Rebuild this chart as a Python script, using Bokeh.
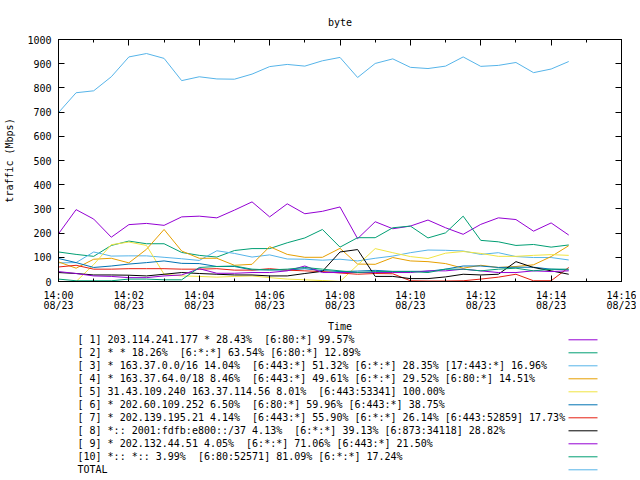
from bokeh.plotting import figure
from bokeh.models import Range1d, FixedTicker, LinearAxis, CustomJSTickFormatter
from bokeh.layouts import column
from bokeh.embed import file_html
from bokeh.resources import INLINE
from bokeh.core.properties import value

# ---------------- data ----------------
times = ["14:00:00", "14:00:30", "14:01:00", "14:01:30", "14:02:00", "14:02:30",
         "14:03:00", "14:03:30", "14:04:00", "14:04:30", "14:05:00", "14:05:30",
         "14:06:00", "14:06:30", "14:07:00", "14:07:30", "14:08:00", "14:08:30",
         "14:09:00", "14:09:30", "14:10:00", "14:10:30", "14:11:00", "14:11:30",
         "14:12:00", "14:12:30", "14:13:00", "14:13:30", "14:14:00", "14:14:30"]

s1 = [197, 297, 258, 183, 235, 240, 232, 267, 270, 263, 295, 329, 267, 321, 280,
      290, 308, 177, 247, 218, 229, 254, 222, 195, 236, 263, 256, 208, 242, 192]
s2 = [122, 112, 104, 149, 167, 156, 156, 120, 108, 101, 128, 136, 136, 160, 180,
      215, 142, 181, 181, 222, 229, 180, 201, 270, 170, 164, 149, 153, 142, 151]
s3 = [77, 78, 122, 105, 106, 106, 100, 94, 87, 127, 116, 101, 110, 93, 92,
      88, 92, 85, 96, 105, 119, 130, 129, 126, 112, 119, 103, 99, 99, 89]
s4 = [81, 55, 92, 96, 77, 133, 215, 126, 96, 96, 67, 71, 144, 112, 100,
      100, 137, 72, 71, 99, 85, 82, 74, 55, 67, 58, 62, 69, 103, 148]
s5 = [0, 0, 70, 152, 163, 149, 30, 23, 21, 18, 21, 23, 16, 10, 7,
      4, 0, 68, 136, 119, 103, 95, 117, 124, 116, 104, 104, 108, 111, 108]
s6 = [95, 78, 58, 64, 72, 78, 85, 75, 74, 62, 62, 48, 48, 47, 53,
      45, 41, 43, 46, 42, 42, 42, 51, 64, 64, 58, 59, 59, 51, 48]
s7 = [60, 67, 51, 51, 53, 53, 53, 51, 51, 53, 47, 47, 53, 47, 44,
      41, 35, 30, 33, 32, 3, 2, 2, 3, 10, 18, 30, 3, 3, 58]
s8 = [37, 33, 27, 27, 26, 23, 30, 37, 33, 30, 27, 27, 23, 23, 33,
      42, 122, 132, 21, 21, 12, 12, 19, 30, 27, 30, 82, 58, 44, 30]
s9 = [41, 33, 23, 21, 16, 16, 23, 27, 53, 34, 34, 37, 37, 44, 64,
      37, 37, 37, 37, 37, 37, 44, 44, 51, 44, 37, 37, 44, 41, 44]
s10 = [10, 3, 3, 3, 10, 10, 7, 7, 58, 62, 64, 51, 48, 51, 58,
       51, 44, 37, 41, 41, 41, 37, 51, 51, 44, 51, 55, 44, 51, 51]
total = [698, 780, 788, 846, 928, 942, 922, 830, 846, 837, 836, 857, 888, 897, 890,
         912, 926, 843, 901, 920, 885, 880, 890, 928, 889, 893, 905, 863, 878, 909]

series = [s1, s2, s3, s4, s5, s6, s7, s8, s9, s10, total]

NB = "\u00a0 "  # double space that survives SVG whitespace collapsing
legend_labels = [
    "[ 1] 203.114.241.177 * 28.43%" + NB + "[6:80:*] 99.57%",
    "[ 2] * * 18.26%" + NB + "[6:*:*] 63.54% [6:80:*] 12.89%",
    "[ 3] * 163.37.0.0/16 14.04%" + NB + "[6:443:*] 51.32% [6:*:*] 28.35% [17:443:*] 16.96%",
    "[ 4] * 163.37.64.0/18 8.46%" + NB + "[6:443:*] 49.61% [6:*:*] 29.52% [6:80:*] 14.51%",
    "[ 5] 31.43.109.240 163.37.114.56 8.01%" + NB + "[6:443:53341] 100.00%",
    "[ 6] * 202.60.109.252 6.50%" + NB + "[6:80:*] 59.96% [6:443:*] 38.75%",
    "[ 7] * 202.139.195.21 4.14%" + NB + "[6:443:*] 55.90% [6:*:*] 26.14% [6:443:52859] 17.73%",
    "[ 8] *:: 2001:fdfb:e800::/37 4.13%" + NB + "[6:*:*] 39.13% [6:873:34118] 28.82%",
    "[ 9] * 202.132.44.51 4.05%" + NB + "[6:*:*] 71.06% [6:443:*] 21.50%",
    "[10] *:: *:: 3.99%" + NB + "[6:80:52571] 81.09% [6:*:*] 17.24%",
    "TOTAL",
]

colors = ["#9400d3", "#009e73", "#56b4e9", "#e69f00", "#f0e442", "#0072b2",
          "#e51e10", "#000000", "#9400d3", "#009e73", "#56b4e9"]

x_ticks = [0, 2, 4, 6, 8, 10, 12, 14, 16]
x_minor = [0, 1, 2, 3, 4, 5, 6, 7, 8, 9, 10, 11, 12, 13, 14, 15, 16]
x_tick_labels = ["14:00\n08/23", "14:02\n08/23", "14:04\n08/23", "14:06\n08/23",
                 "14:08\n08/23", "14:10\n08/23", "14:12\n08/23", "14:14\n08/23",
                 "14:16\n08/23"]
y_ticks = [0, 100, 200, 300, 400, 500, 600, 700, 800, 900, 1000]


def to_minutes(t):
    h, m, s = (int(v) for v in t.split(":"))
    return (h - 14) * 60 + m + s / 60.0


xs = [to_minutes(t) for t in times]

FONT = "DejaVu Sans Mono"
FS = "10px"

W = 636
H1 = 334
H2 = 142
FL, FR, FT, FB = 58, 621, 39, 282  # frame edges in page pixels

# ---------------- main plot ----------------
p = figure(width=W, height=H1, output_backend="svg", toolbar_location=None,
           x_range=Range1d(0, 16), y_range=Range1d(0, 1000),
           min_border_left=FL, min_border_right=W - FR, min_border_top=FT,
           min_border_bottom=H1 - FB, title="byte")
p.title.text_font = FONT
p.title.text_font_size = FS
p.title.text_font_style = "normal"
p.title.align = "center"
p.title.text_color = "black"
p.title.standoff = 24
p.outline_line_color = "black"
p.xgrid.visible = False
p.ygrid.visible = False
p.background_fill_color = "white"
p.border_fill_color = "white"

xa = p.xaxis[0]
xa.ticker = FixedTicker(ticks=x_ticks, minor_ticks=x_minor)
xa.major_label_overrides = {t: lab for t, lab in zip(x_ticks, x_tick_labels)}
xa.axis_label = "Time"
ya = p.yaxis[0]
ya.ticker = FixedTicker(ticks=y_ticks, minor_ticks=[])
ya.axis_label = "traffic (Mbps)"

for ax in (xa, ya):
    ax.major_label_text_font = FONT
    ax.major_label_text_font_size = FS
    ax.major_label_text_color = "black"
    ax.axis_label_text_font = FONT
    ax.axis_label_text_font_size = FS
    ax.axis_label_text_font_style = "normal"
    ax.axis_label_text_color = "black"
    ax.axis_line_color = "black"
    ax.major_tick_line_color = "black"
    ax.minor_tick_line_color = "black"
    ax.major_tick_out = 0
    ax.minor_tick_out = 0
    ax.major_tick_in = 6
    ax.minor_tick_in = 3

xa.major_label_text_line_height = 0.95
xa.major_label_standoff = 8
xa.axis_label_standoff = 7
ya.major_label_standoff = 7
ya.axis_label_standoff = 9

blank = CustomJSTickFormatter(code="return ''")
top = LinearAxis(ticker=FixedTicker(ticks=x_ticks, minor_ticks=x_minor),
                 formatter=blank, major_label_standoff=0,
                 major_tick_in=6, major_tick_out=0, minor_tick_in=3, minor_tick_out=0,
                 axis_line_color="black")
right = LinearAxis(ticker=FixedTicker(ticks=y_ticks, minor_ticks=[]),
                   formatter=blank, major_label_standoff=0,
                   major_tick_in=6, major_tick_out=0, minor_tick_in=0, minor_tick_out=0,
                   axis_line_color="black")
p.add_layout(top, "above")
p.add_layout(right, "right")

for ys, c in zip(series, colors):
    p.line(xs, ys, line_color=c, line_width=1)

# ---------------- legend block (units = page pixels) ----------------
lg = figure(width=W, height=H2, output_backend="svg", toolbar_location=None,
            x_range=Range1d(FL, FR), y_range=Range1d(H1 + H2, H1),
            x_axis_location=None, y_axis_location=None,
            min_border_left=FL, min_border_right=W - FR,
            min_border_top=0, min_border_bottom=0)
lg.outline_line_color = None
lg.grid.visible = False
lg.background_fill_color = "white"
lg.border_fill_color = "white"

row_y = [339.3 + 13 * k for k in range(len(legend_labels))]
lg.text(x=[77] * len(legend_labels), y=row_y, text=legend_labels,
        text_font=value(FONT), text_font_size=FS, text_baseline="middle",
        text_align="left", text_color="black")
lg.segment(x0=[568] * len(legend_labels), x1=[597] * len(legend_labels),
           y0=row_y, y1=row_y, line_color=colors, line_width=1)

layout = column(p, lg, spacing=0)
open("out.html", "w").write(file_html(layout, INLINE))
